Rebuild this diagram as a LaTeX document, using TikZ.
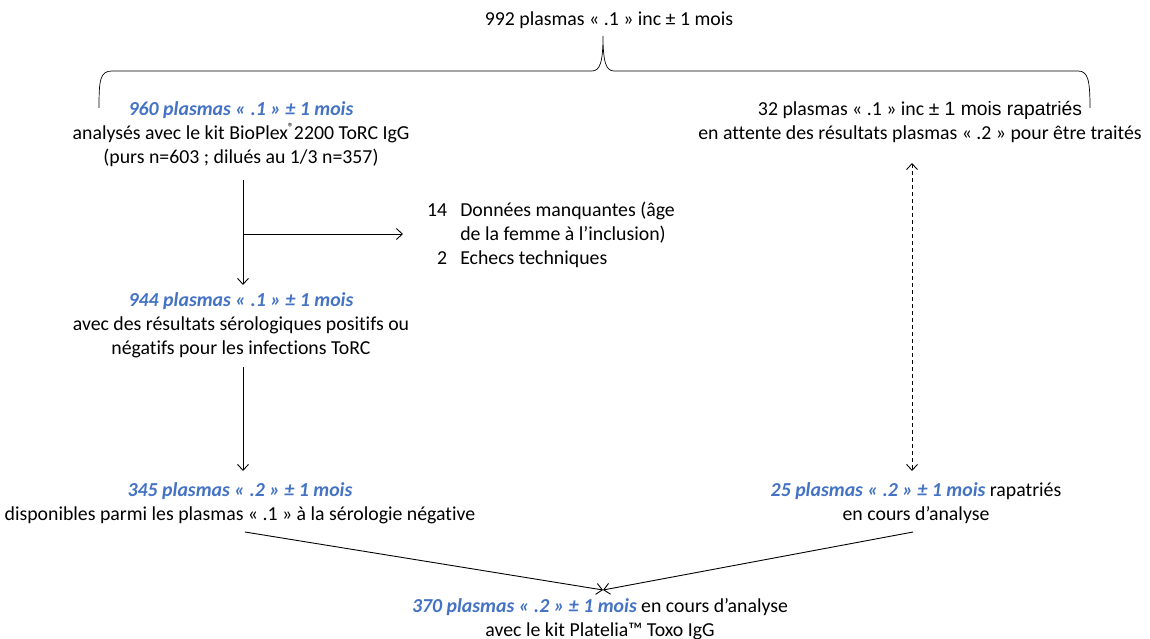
\documentclass[tikz,border=0pt]{standalone}
\usepackage{fontspec}
\setmainfont{Carlito}[Ligatures={NoCommon}]
\newfontfamily\arialf{Liberation Sans}
\usetikzlibrary{arrows.meta}
\definecolor{hblue}{HTML}{4472C4}
\newcommand{\hl}[1]{{\color{hblue}\bfseries\itshape #1}}
\newcommand{\regmark}{\raisebox{0.4em}{\scalebox{0.6}{®}}}
\begin{document}
\begin{tikzpicture}[x=1pt,y=-1pt,
  txt/.style={inner sep=0pt,align=center,font=\fontsize{19.8}{24}\selectfont},
  arr/.style={draw,line width=0.9pt,-{Straight Barb[length=6pt,width=11pt]}},
  darr/.style={draw,line width=0.9pt,dashed,dash pattern=on 4pt off 3pt,{Straight Barb[length=6pt,width=11pt]}-{Straight Barb[length=6pt,width=11pt]}},
  brace/.style={draw,line width=0.7pt}]
\useasboundingbox (0,0) rectangle (1150,639);
\node[txt] (top) at (609,20) {992 plasmas « .1 » inc ± 1 mois};
\draw[brace] (99,108) .. controls (99,80) and (100,71) .. (112,71) -- (592,71)
  .. controls (600,71) and (603,62) .. (603,36)
  .. controls (603,62) and (606,71) .. (614,71) -- (1078,71)
  .. controls (1088,71) and (1090,80) .. (1090,108);
\node[txt] (n960) at (241,134) {\hl{960 plasmas « .1 » ± 1 mois}\\analysés avec le kit BioPlex\regmark2200 ToRC IgG\\(purs n=603 ; dilués au 1/3 n=357)};
\node[txt] (n32) at (920,122) {32 plasmas « .1 » inc {\arialf\fontsize{19.3}{24}\selectfont ± 1 mois rapatriés}\\en attente des résultats plasmas « .2 » pour être traités};
\node[txt,anchor=north west] (miss) at (427,199) {\begin{tabular}{@{}r@{\hspace{13pt}}l@{}}14 & Données manquantes (âge\\ & de la femme à l’inclusion)\\2 & Echecs techniques\end{tabular}};
\node[txt] (n944) at (241,325) {\hl{944 plasmas « .1 » ± 1 mois}\\avec des résultats sérologiques positifs ou\\négatifs pour les infections ToRC};
\node[txt] (n345) at (240,503) {\hl{345 plasmas « .2 » ± 1 mois}\\disponibles parmi les plasmas « .1 » à la sérologie négative};
\node[txt] (n25) at (916,503) {\hl{25 plasmas « .2 » ± 1 mois} rapatriés\\en cours d’analyse};
\node[txt] (n370) at (600,619) {\hl{370 plasmas « .2 » ± 1 mois} en cours d’analyse\\avec le kit Platelia™ Toxo IgG};
\coordinate (a1) at (243,180);
\coordinate (a2) at (243,285);
\coordinate (b1) at (243,234);
\coordinate (b2) at (403,234);
\coordinate (c1) at (243,367);
\coordinate (c2) at (243,471);
\coordinate (d1) at (912,163);
\coordinate (d2) at (912,471);
\coordinate (e1) at (245,532);
\coordinate (e2) at (913,532);
\coordinate (f) at (603,590);
\path[arr] (a1) -- (a2);
\path[arr] (b1) -- (b2);
\path[arr] (c1) -- (c2);
\path[darr] (d1) -- (d2);
\path[arr] (e1) -- (f);
\path[arr] (e2) -- (f);
\end{tikzpicture}
\end{document}
